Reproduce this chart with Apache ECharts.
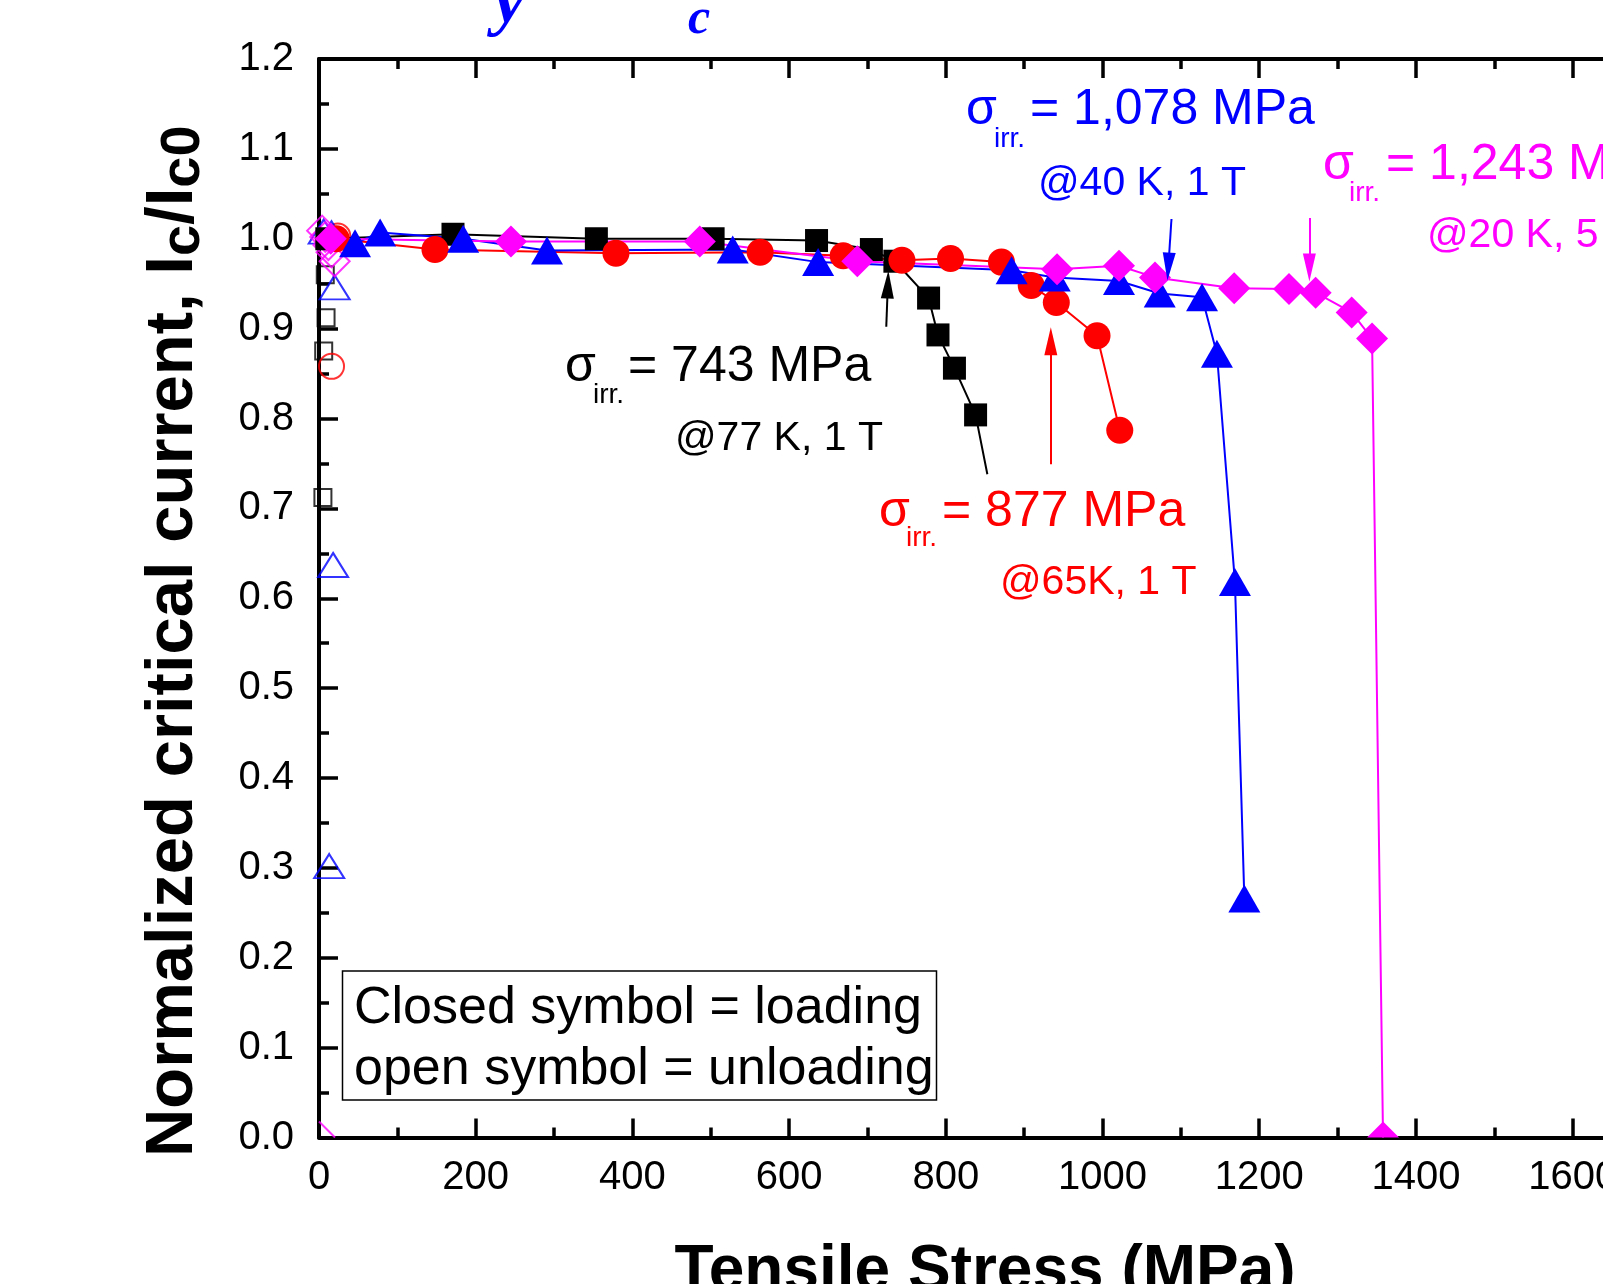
<!DOCTYPE html>
<html>
<head>
<meta charset="utf-8">
<script src="https://cdn.jsdelivr.net/npm/echarts@6/dist/echarts.min.js"></script>
<style>
html, body { margin: 0; padding: 0; background: #fff; }
#chart { width: 1603px; height: 1284px; }
</style>
</head>
<body>
<div id="chart"></div>
<script>
// loading runs (closed symbols): [tensile stress MPa, Ic/Ic0]
const black77K = [[10, 1.0], [171, 1.005], [354, 1.0], [503, 1.0], [635, 0.998], [705, 0.988], [735, 0.975], [778, 0.934], [790, 0.893], [811, 0.856], [838, 0.804]];
const black77KTail = [853, 0.738];
const red65K = [[22, 1.0], [148, 0.988], [379, 0.984], [563, 0.985], [669, 0.981], [744, 0.976], [806, 0.978], [871, 0.974], [909, 0.948], [941, 0.929], [993, 0.892], [1022, 0.787]];
const blue40K = [[46, 0.995], [78, 1.007], [184, 1.0], [291, 0.987], [528, 0.988], [637, 0.974], [884, 0.965], [939, 0.957], [1021, 0.953], [1073, 0.939], [1127, 0.935], [1146, 0.872], [1169, 0.618], [1181, 0.266]];
const magenta20K = [[15, 1.0], [245, 0.997], [486, 0.997], [687, 0.975], [942, 0.966], [1021, 0.970], [1067, 0.957], [1168, 0.945], [1238, 0.944], [1272, 0.940], [1318, 0.918], [1344, 0.889], [1358, 0.0]];

// unloading (open symbols)
const black77KOpen = [[8, 0.96], [9, 0.912], [6, 0.875], [5, 0.712]];
const red65KOpen = [[24, 1.003], [16, 0.858]];
const blue40KOpen = [[6, 1.008], [16, 1.006], [20, 0.946], [18, 0.637], [13, 0.302]];
const magenta20KOpen = [[4, 1.009], [8, 1.002], [12, 0.993], [16, 0.985], [20, 0.975], [0, 0.0]];

// irreversible stress arrows: [x, y] from -> to
const arrows = [
  { color: '#000000', from: [724, 0.902], to: [726, 0.949] },
  { color: '#ff0000', from: [934, 0.749], to: [934, 0.886] },
  { color: '#0000ff', from: [1088, 1.022], to: [1084, 0.969] },
  { color: '#ff00ff', from: [1264, 1.023], to: [1264, 0.968] }
];

const FONT = '"Liberation Sans", Arial, Helvetica, sans-serif';
const SERIF = '"Liberation Serif", "Times New Roman", serif';

// annotation texts, y = baseline
const notes = [
  { t: 'σ', x: 565, y: 385, s: 50, c: '#000000' },
  { t: 'irr.', x: 593, y: 405, s: 28, c: '#000000' },
  { t: '= 743 MPa', x: 628, y: 385, s: 50, c: '#000000' },
  { t: '@77 K, 1 T', x: 675, y: 453, s: 41, c: '#000000' },
  { t: 'σ', x: 879, y: 530, s: 50, c: '#ff0000' },
  { t: 'irr.', x: 906, y: 548, s: 28, c: '#ff0000' },
  { t: '= 877 MPa', x: 942, y: 530, s: 50, c: '#ff0000' },
  { t: '@65K, 1 T', x: 1000, y: 597, s: 41, c: '#ff0000' },
  { t: 'σ', x: 966, y: 128, s: 50, c: '#0000ff' },
  { t: 'irr.', x: 994, y: 149, s: 28, c: '#0000ff' },
  { t: '= 1,078 MPa', x: 1030, y: 128, s: 50, c: '#0000ff' },
  { t: '@40 K, 1 T', x: 1038, y: 198, s: 41, c: '#0000ff' },
  { t: 'σ', x: 1323, y: 183, s: 50, c: '#ff00ff' },
  { t: 'irr.', x: 1349, y: 203, s: 28, c: '#ff00ff' },
  { t: '= 1,243 MPa', x: 1386, y: 183, s: 50, c: '#ff00ff' },
  { t: '@20 K, 5 T', x: 1427, y: 250, s: 41, c: '#ff00ff' },
  { t: 'Closed symbol = loading', x: 354, y: 1027, s: 52, c: '#000000' },
  { t: 'open symbol = unloading', x: 354, y: 1088, s: 52, c: '#000000' }
];

const chart = echarts.init(document.getElementById('chart'));

function closed(name, data, color, symbol, size) {
  return {
    name: name,
    type: 'line',
    data: data.map(p => {
      // point sitting on the x axis: only the upper half shows
      if (p[1] === 0 && symbol === 'diamond') {
        return { value: p, symbol: 'triangle', symbolSize: [size[0], size[1] / 2], symbolOffset: [0, -size[1] / 4] };
      }
      return p;
    }),
    symbol: symbol,
    symbolSize: size,
    showSymbol: true,
    itemStyle: { color: color },
    lineStyle: { color: color, width: 2 },
    emphasis: { disabled: true },
    clip: false,
    animation: false
  };
}

function open(name, data, color, symbol, size) {
  return {
    name: name,
    type: 'scatter',
    data: data.map(p => {
      if (p[0] === 0 && p[1] === 0) {
        // corner symbol clipped by the axes: only one edge is left
        return { value: p, symbol: 'path://M0 0 L16 16', symbolSize: [16, 16], symbolOffset: [8, -8] };
      }
      return p;
    }),
    symbol: symbol,
    symbolSize: size,
    itemStyle: { color: 'transparent', borderColor: color, borderWidth: 2 },
    emphasis: { disabled: true },
    animation: false
  };
}

const series = [
  closed('77 K', black77K.concat([{ value: black77KTail, symbol: 'none' }]), '#000000', 'rect', 23),
  closed('65 K', red65K, '#ff0000', 'circle', 27),
  closed('40 K', blue40K, '#0000ff', 'triangle', [32, 28]),
  closed('20 K', magenta20K, '#ff00ff', 'diamond', [32, 32]),
  open('77 K open', black77KOpen, '#000000', 'rect', 17),
  open('65 K open', red65KOpen, '#ff0000', 'circle', 25),
  open('40 K open', blue40KOpen, '#0000ff', 'triangle', [30, 24]),
  open('20 K open', magenta20KOpen, '#ff00ff', 'diamond', [30, 30])
];

// arrows go on the loading series of the same colour
arrows.forEach((a, i) => {
  series[i].markLine = {
    silent: true,
    animation: false,
    label: { show: false },
    lineStyle: { color: a.color, width: 2, type: 'solid' },
    data: [[
      { coord: a.from, symbol: 'none' },
      { coord: a.to, symbol: 'triangle', symbolSize: [13, 28] }
    ]]
  };
});

const tickLine = { color: '#000', width: 3.5 };
function xAxisCfg(pos) {
  return {
    type: 'value',
    position: pos,
    min: 0,
    max: 1700,
    interval: 200,
    axisLine: { onZero: false, lineStyle: { color: '#000', width: 4 } },
    axisTick: { inside: true, length: 19, lineStyle: tickLine },
    minorTick: { show: true, splitNumber: 2, length: 10, lineStyle: tickLine },
    splitLine: { show: false },
    minorSplitLine: { show: false },
    axisLabel: { show: pos === 'bottom', fontSize: 40, color: '#000', fontFamily: FONT, margin: 20, formatter: v => String(v) }
  };
}

const xBottom = xAxisCfg('bottom');
xBottom.name = 'Tensile Stress (MPa)';
xBottom.nameLocation = 'middle';
xBottom.nameGap = 103;
xBottom.nameTextStyle = { fontSize: 64, fontWeight: 'bold', color: '#000', fontFamily: FONT };

const graphic = notes.map(n => ({
  type: 'text',
  x: n.x,
  y: n.y - 0.35 * n.s,
  silent: true,
  style: {
    text: n.t,
    fontSize: n.s,
    fontFamily: FONT,
    fill: n.c,
    align: 'left',
    verticalAlign: 'middle'
  },
  z: 50
}));

// legend frame
graphic.unshift({
  type: 'rect',
  shape: { x: 342.5, y: 971, width: 594, height: 129 },
  style: { fill: '#fff', stroke: '#000', lineWidth: 1.5 },
  silent: true,
  z: 40
});

// remains of the cut-off title above the frame
graphic.push(
  { type: 'text', x: 494, y: 4, silent: true, style: { text: 'y', fontSize: 70, fontStyle: 'italic', fontWeight: 'bold', fontFamily: SERIF, fill: '#0000ff', verticalAlign: 'middle' } },
  { type: 'text', x: 688, y: 20, silent: true, style: { text: 'c', fontSize: 50, fontStyle: 'italic', fontWeight: 'bold', fontFamily: SERIF, fill: '#0000ff', verticalAlign: 'middle' } }
);

const nameBold = { fontWeight: 'bold', fontFamily: FONT, color: '#000' };

chart.setOption({
  backgroundColor: '#fff',
  animation: false,
  grid: { left: 319, top: 59, width: 1332, height: 1078.5, containLabel: false, outerBoundsMode: 'none' },
  xAxis: [xBottom, xAxisCfg('top')],
  yAxis: {
    type: 'value',
    min: 0,
    max: 1.2,
    interval: 0.1,
    axisLine: { show: true, onZero: false, lineStyle: { color: '#000', width: 4 } },
    axisTick: { show: true, inside: true, length: 19, lineStyle: tickLine },
    minorTick: { show: true, splitNumber: 2, length: 10, lineStyle: tickLine },
    splitLine: { show: false },
    axisLabel: { fontSize: 40, color: '#000', fontFamily: FONT, margin: 25, formatter: v => v.toFixed(1) },
    name: '{m|Normalized critical current, I}{sub|c}{m|/I}{sub|c0}',
    nameLocation: 'middle',
    nameGap: 112,
    nameTextStyle: {
      fontSize: 67,
      fontWeight: 'bold',
      color: '#000',
      fontFamily: FONT,
      padding: [0, 86, 0, 0],
      rich: {
        m: Object.assign({ fontSize: 67, lineHeight: 67, verticalAlign: 'top' }, nameBold),
        sub: Object.assign({ fontSize: 56, lineHeight: 67, verticalAlign: 'top', padding: [16, 0, 0, 0] }, nameBold)
      }
    }
  },
  series: series,
  graphic: graphic
});
</script>
</body>
</html>
